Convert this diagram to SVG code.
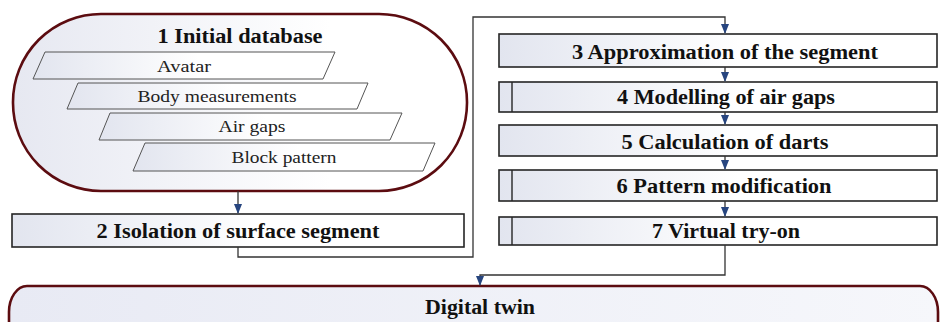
<svg xmlns="http://www.w3.org/2000/svg" width="940" height="322" viewBox="0 0 940 322" font-family="'Liberation Serif', 'Times New Roman', serif">
<defs>
<linearGradient id="g" x1="0" y1="0" x2="1" y2="0">
<stop offset="0" stop-color="#e2e5ef"/>
<stop offset="0.55" stop-color="#ffffff"/>
<stop offset="1" stop-color="#ffffff"/>
</linearGradient>
<linearGradient id="gp" x1="0" y1="0" x2="1" y2="0">
<stop offset="0" stop-color="#e6e8f1"/>
<stop offset="0.7" stop-color="#ffffff"/>
<stop offset="1" stop-color="#ffffff"/>
</linearGradient>
<linearGradient id="gd" x1="0" y1="0" x2="1" y2="0">
<stop offset="0" stop-color="#e8eaf4"/>
<stop offset="1" stop-color="#f6f7fb"/>
</linearGradient>
<marker id="ah" markerWidth="10" markerHeight="8" refX="9" refY="4" orient="auto" markerUnits="userSpaceOnUse">
<path d="M0,0 L10,4 L0,8 Z" fill="#27457f"/>
</marker>
</defs>
<style>
.pill{fill:url(#gp);stroke:#5c0c10;stroke-width:2.6}
.box{fill:url(#g);stroke:#252525;stroke-width:1.6}
.par{fill:url(#g);stroke:#555;stroke-width:1}
.in{stroke:#252525;stroke-width:1.4}
.h{font-weight:700;font-size:20px;fill:#111;text-anchor:middle}
.t{font-size:16px;fill:#222;text-anchor:middle}
.c{fill:none;stroke:#333;stroke-width:1.3}
</style>
<g id="n1">
<rect class="pill" x="13" y="14" width="454" height="177" rx="88" ry="88"/>
<text class="h" x="240" y="43" textLength="165" lengthAdjust="spacingAndGlyphs">1 Initial database</text>
<polygon class="par" points="45,52 335,52 323,79 33,79"/>
<text class="t" x="184" y="72" textLength="54" lengthAdjust="spacingAndGlyphs">Avatar</text>
<polygon class="par" points="78,83 368,83 357,109 67,109"/>
<text class="t" x="217" y="102" textLength="159" lengthAdjust="spacingAndGlyphs">Body measurements</text>
<polygon class="par" points="110,113 402,113 390,140 99,140"/>
<text class="t" x="252" y="132" textLength="67" lengthAdjust="spacingAndGlyphs">Air gaps</text>
<polygon class="par" points="145,143 435,143 423,171 133,171"/>
<text class="t" x="284" y="163" textLength="105" lengthAdjust="spacingAndGlyphs">Block pattern</text>
</g>
<g id="n2">
<rect class="box" x="12" y="214" width="452" height="33"/>
<text class="h" x="238" y="238" textLength="283" lengthAdjust="spacingAndGlyphs">2 Isolation of surface segment</text>
</g>
<g id="n3">
<rect class="box" x="499" y="34" width="438" height="33"/>
<text class="h" x="725" y="59" textLength="306" lengthAdjust="spacingAndGlyphs">3 Approximation of the segment</text>
</g>
<g id="n4">
<rect class="box" x="499" y="82" width="438" height="30"/>
<line class="in" x1="512" y1="82" x2="512" y2="112"/>
<text class="h" x="726" y="104" textLength="218" lengthAdjust="spacingAndGlyphs">4 Modelling of air gaps</text>
</g>
<g id="n5">
<rect class="box" x="499" y="125" width="438" height="31"/>
<text class="h" x="725" y="149" textLength="207" lengthAdjust="spacingAndGlyphs">5 Calculation of darts</text>
</g>
<g id="n6">
<rect class="box" x="499" y="170" width="438" height="31"/>
<line class="in" x1="512" y1="170" x2="512" y2="201"/>
<text class="h" x="724" y="193" textLength="215" lengthAdjust="spacingAndGlyphs">6 Pattern modification</text>
</g>
<g id="n7">
<rect class="box" x="499" y="217" width="438" height="28"/>
<line class="in" x1="512" y1="217" x2="512" y2="245"/>
<text class="h" x="726" y="238" textLength="148" lengthAdjust="spacingAndGlyphs">7 Virtual try-on</text>
</g>
<g id="n8">
<rect x="9" y="286" width="929" height="70" rx="18" ry="26" fill="url(#gd)" stroke="#5c0c10" stroke-width="2.6"/>
<text class="h" x="480" y="314" textLength="110" lengthAdjust="spacingAndGlyphs">Digital twin</text>
</g>
<g id="connectors">
<path class="c" d="M238,191 V213" marker-end="url(#ah)"/>
<path class="c" d="M238,247 V257 H473 V17 H725 V33" marker-end="url(#ah)"/>
<path class="c" d="M725,67 V81" marker-end="url(#ah)"/>
<path class="c" d="M725,112 V124" marker-end="url(#ah)"/>
<path class="c" d="M725,156 V169" marker-end="url(#ah)"/>
<path class="c" d="M725,201 V216" marker-end="url(#ah)"/>
<path class="c" d="M725,245 V275 H480 V285" marker-end="url(#ah)"/>
</g>
</svg>
